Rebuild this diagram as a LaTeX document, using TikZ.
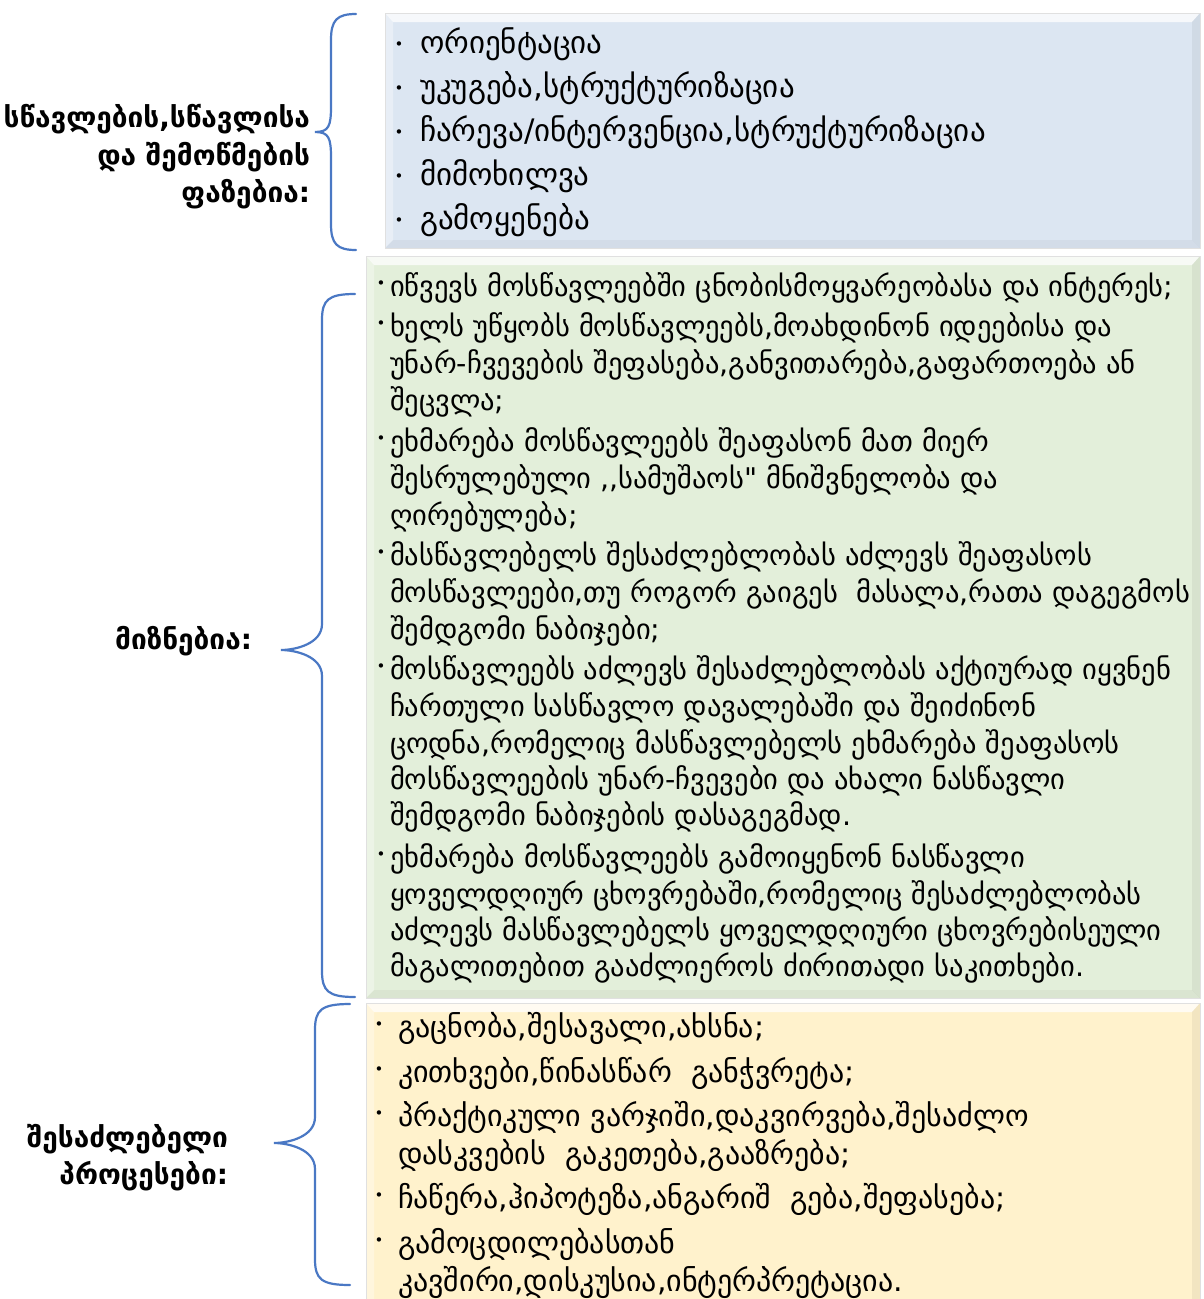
\documentclass[tikz,border=0pt]{standalone}
\usepackage{fontspec}
\setmainfont{DejaVu Sans}[Ligatures=TeXOff]
\definecolor{blueF}{HTML}{DCE6F2}
\definecolor{greenF}{HTML}{E3EFDA}
\definecolor{yellowF}{HTML}{FFF2CC}
\definecolor{braceC}{HTML}{4A78C4}
\newcommand\bevbox[5]{%
  \fill[#5] (#1,#2) rectangle (#3,#4);
  \fill[white,opacity=.75] (#1,#2) -- (#3,#2) -- ({#3-8},{#2+9}) -- ({#1+8},{#2+9}) -- cycle;
  \fill[white,opacity=.35] (#1,#2) -- ({#1+8},{#2+9}) -- ({#1+8},{#4-8}) -- (#1,#4) -- cycle;
  \fill[black,opacity=.05] (#3,#2) -- (#3,#4) -- ({#3-8},{#4-8}) -- ({#3-8},{#2+9}) -- cycle;
  \fill[black,opacity=.04] (#1,#4) -- (#3,#4) -- ({#3-8},{#4-8}) -- ({#1+8},{#4-8}) -- cycle;
  \draw[black!12,line width=.8pt] (#1,#2) rectangle (#3,#4);
}
\newcommand\bracepath[6]{% xtop ytop xv xtip ytip ybot
  \draw[braceC,line width=2.2pt,line cap=round]
    (#1,#2) .. controls ({#3+6},#2) and (#3,{#2+6}) .. (#3,{#2+26})
    -- (#3,{#5-26}) .. controls (#3,{#5-6}) and ({#4+14},#5) .. (#4,#5)
    .. controls ({#4+14},#5) and (#3,{#5+6}) .. (#3,{#5+26})
    -- (#3,{#6-26}) .. controls (#3,{#6-6}) and ({#3+6},#6) .. (#1,#6);
}
\begin{document}
\begin{tikzpicture}[x=1pt,y=-1pt,
  every node/.style={inner sep=0pt,outer sep=0pt,text=black},
  bline/.style={anchor=base west,font=\fontsize{31}{31}\selectfont},
  gline/.style={anchor=base west,font=\fontsize{28.5}{28.5}\selectfont},
  yline/.style={anchor=base west,font=\fontsize{30}{30}\selectfont},
  bul/.style={anchor=base,font=\fontsize{15}{15}\selectfont},
  lab/.style={anchor=base east,font=\bfseries\fontsize{28}{28}\selectfont}]
\useasboundingbox (0,0) rectangle (1203,1299);
\fill[white] (0,0) rectangle (1203,1299);

% boxes
\bevbox{385}{13}{1200}{248}{blueF}
\bevbox{366}{256}{1200}{998}{greenF}
\bevbox{366}{1003}{1200}{1312}{yellowF}

% braces
\bracepath{356}{14}{331}{315}{132}{250}
\bracepath{355}{294}{322}{281}{650}{997}
\bracepath{350}{1004}{315}{274}{1143}{1285}

% labels
\node[lab] (l1a) at (310,127) {სწავლების,სწავლისა};
\node[lab] (l1b) at (310,165) {და შემოწმების};
\node[lab] (l1c) at (310,202) {ფაზებია:};
\node[lab] (l2) at (252,649) {მიზნებია:};
\node[lab] (l3a) at (228,1147) {შესაძლებელი};
\node[lab] (l3b) at (228,1184) {პროცესები:};

% blue box items
\foreach \yy/\nm in {53/b1,97/b2,141/b3,185/b4,229/b5}
  \node[bul] (\nm d) at (399,{\yy-4}) {•};
\node[bline] (b1) at (420,53) {ორიენტაცია};
\node[bline] (b2) at (420,97) {უკუგება,სტრუქტურიზაცია};
\node[bline] (b3) at (420,141) {ჩარევა/ინტერვენცია,სტრუქტურიზაცია};
\node[bline] (b4) at (420,185) {მიმოხილვა};
\node[bline] (b5) at (420,229) {გამოყენება};

% green box items
\foreach \yy/\nm in {296/g1,336/g2,451/g3,565/g4,679/g5,867/g6}
  \node[bul] (\nm d) at (381,{\yy-8}) {•};
\node[gline] (g1) at (390,296) {იწვევს მოსწავლეებში ცნობისმოყვარეობასა და ინტერეს;};
\node[gline] (g2a) at (390,336) {ხელს უწყობს მოსწავლეებს,მოახდინონ იდეებისა და};
\node[gline] (g2b) at (390,373) {უნარ-ჩვევების შეფასება,განვითარება,გაფართოება ან};
\node[gline] (g2c) at (390,410) {შეცვლა;};
\node[gline] (g3a) at (390,451) {ეხმარება მოსწავლეებს შეაფასონ მათ მიერ};
\node[gline] (g3b) at (390,488) {შესრულებული ,,სამუშაოს" მნიშვნელობა და};
\node[gline] (g3c) at (390,525) {ღირებულება;};
\node[gline] (g4a) at (390,565) {მასწავლებელს შესაძლებლობას აძლევს შეაფასოს};
\node[gline] (g4b) at (390,602) {მოსწავლეები,თუ როგორ გაიგეს\ \ მასალა,რათა დაგეგმოს};
\node[gline] (g4c) at (390,639) {შემდგომი ნაბიჯები;};
\node[gline] (g5a) at (390,679) {მოსწავლეებს აძლევს შესაძლებლობას აქტიურად იყვნენ};
\node[gline] (g5b) at (390,716) {ჩართული სასწავლო დავალებაში და შეიძინონ};
\node[gline] (g5c) at (390,753) {ცოდნა,რომელიც მასწავლებელს ეხმარება შეაფასოს};
\node[gline] (g5d) at (390,789) {მოსწავლეების უნარ-ჩვევები და ახალი ნასწავლი};
\node[gline] (g5e) at (390,825) {შემდგომი ნაბიჯების დასაგეგმად.};
\node[gline] (g6a) at (390,867) {ეხმარება მოსწავლეებს გამოიყენონ ნასწავლი};
\node[gline] (g6b) at (390,904) {ყოველდღიურ ცხოვრებაში,რომელიც შესაძლებლობას};
\node[gline] (g6c) at (390,940) {აძლევს მასწავლებელს ყოველდღიური ცხოვრებისეული};
\node[gline] (g6d) at (390,976) {მაგალითებით გააძლიეროს ძირითადი საკითხები.};

% yellow box items
\foreach \yy/\nm in {1037/y1,1082/y2,1126/y3,1208/y4,1253/y5}
  \node[bul] (\nm d) at (379,{\yy-8}) {•};
\node[yline] (y1) at (398,1037) {გაცნობა,შესავალი,ახსნა;};
\node[yline] (y2) at (398,1082) {კითხვები,წინასწარ\ \ განჭვრეტა;};
\node[yline] (y3a) at (398,1126) {პრაქტიკული ვარჯიში,დაკვირვება,შესაძლო};
\node[yline] (y3b) at (398,1164) {დასკვების\ \ გაკეთება,გააზრება;};
\node[yline] (y4) at (398,1208) {ჩაწერა,ჰიპოტეზა,ანგარიშ\ \ გება,შეფასება;};
\node[yline] (y5a) at (398,1253) {გამოცდილებასთან};
\node[yline] (y5b) at (398,1291) {კავშირი,დისკუსია,ინტერპრეტაცია.};
\end{tikzpicture}
\end{document}
